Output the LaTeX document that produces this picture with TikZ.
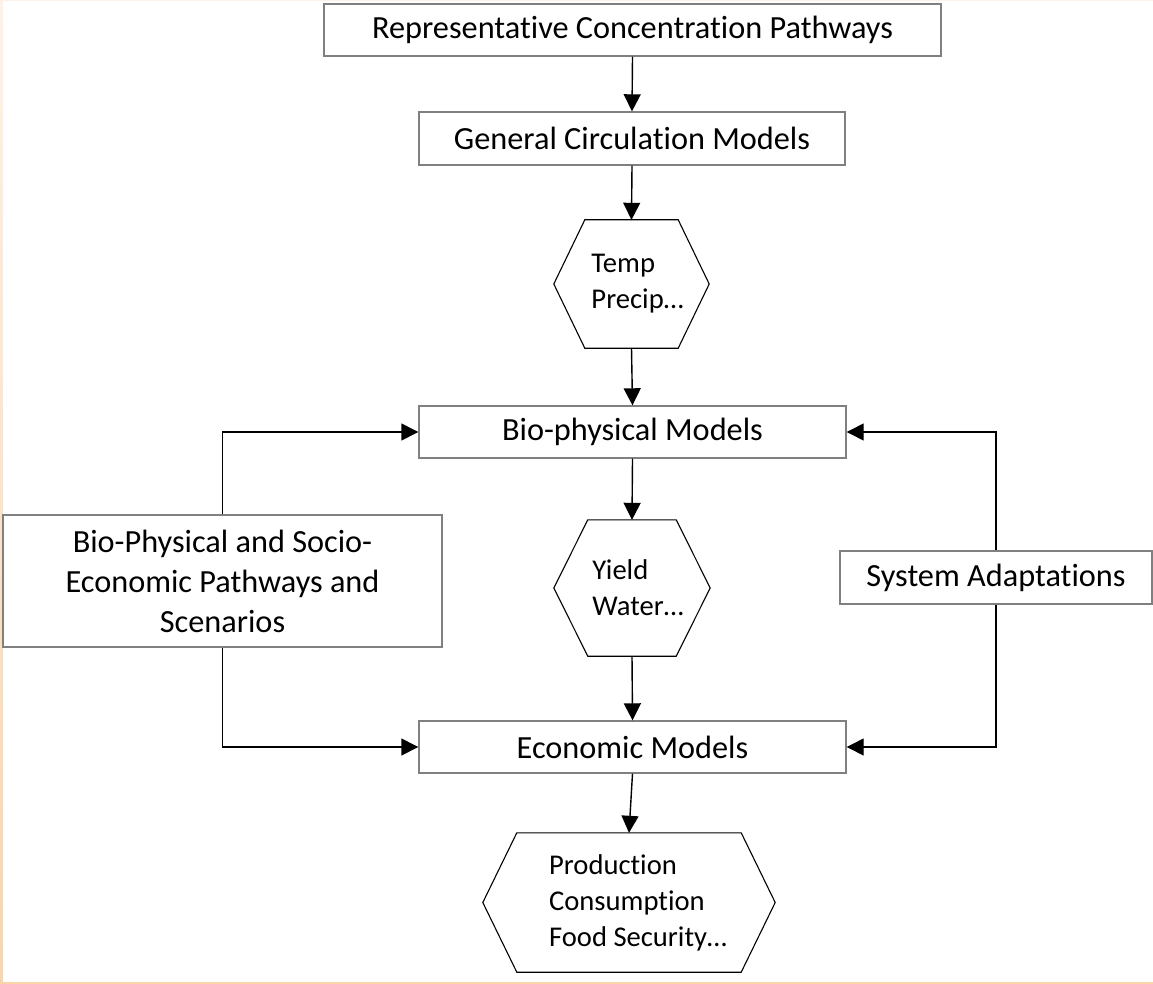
\documentclass[tikz,border=0pt]{standalone}
\usepackage{fontspec}
\setmainfont{Carlito}[Ligatures=NoCommon]
\usetikzlibrary{arrows.meta}
\definecolor{peach}{RGB}{251,212,168}
\definecolor{peachlight}{RGB}{254,242,230}
\newcommand{\hexframe}[2]{\draw[hexline] ([xshift=-#2]#1.west) -- (#1.north west) -- (#1.north east) -- ([xshift=#2]#1.east) -- (#1.south east) -- (#1.south west) -- cycle;}

\begin{document}
\begin{tikzpicture}[x=1pt, y=-1pt,
  box/.style = {shape=rectangle, draw=black!50, line width=1.4pt,
    inner sep=0pt, align=center, font=\fontsize{32.3}{40}\selectfont},
  hexa/.style = {shape=rectangle, inner sep=0pt},
  hextext/.style = {inner sep=0pt, align=left,
    font=\fontsize{28.6}{36}\selectfont},
  hexline/.style = {draw=black, line width=1.1pt, line join=miter},
  link/.style = {draw=black, line width=1.4pt,
    -{Triangle[length=17pt,width=17pt]}}]
  \useasboundingbox (0,0) rectangle (1153,984);
  \shade[top color=peachlight, bottom color=peach] (0,0) rectangle (2.5,984);
  \fill[peachlight] (0,0) rectangle (1153,1.2);
  \fill[peach] (0,981.6) rectangle (1153,984);

  \node[box, minimum width=617pt, minimum height=52pt] (rcp) at (632.5,30) {Representative Concentration Pathways};
  \node[box, minimum width=426pt, minimum height=53pt] (gcm) at (632,138.5) {General Circulation Models};
  \node[hexa, minimum width=93pt, minimum height=128pt,
    label={[hextext, xshift=6pt]center:Temp\\Precip…}] (temp) at (631.5,284) {};
  \node[box, minimum width=427pt, minimum height=52pt] (bio) at (632.5,432) {Bio-physical Models};
  \node[hexa, minimum width=88pt, minimum height=136pt,
    label={[hextext, xshift=6pt]center:Yield\\Water…}] (yield) at (632,588) {};
  \node[box, minimum width=427pt, minimum height=52pt] (econ) at (632.5,747) {Economic Models};
  \node[hexa, minimum width=224pt, minimum height=139pt,
    label={[hextext, xshift=9pt]center:Production\\Consumption\\Food Security…}] (prod) at (629,902.5) {};
  \node[box, minimum width=439pt, minimum height=132pt] (scen) at (222.5,581) {Bio-Physical and Socio-\\Economic Pathways and\\Scenarios};
  \node[box, minimum width=312pt, minimum height=53pt] (sysad) at (996,577.5) {System Adaptations};

  \hexframe{temp}{31pt}
  \hexframe{yield}{34pt}
  \hexframe{prod}{34pt}

  \draw[link] (rcp.south) -- (gcm.north);
  \draw[link] (gcm.south) -- (temp.north);
  \draw[link] (temp.south) -- (bio.north);
  \draw[link] (bio.south) -- (yield.north);
  \draw[link] (yield.south) -- (econ.north);
  \draw[link] (econ.south) -- (prod.north);
  \draw[link] (scen.north) |- (bio.west);
  \draw[link] (scen.south) |- (econ.west);
  \draw[link] (sysad.north) |- (bio.east);
  \draw[link] (sysad.south) |- (econ.east);
\end{tikzpicture}
\end{document}
